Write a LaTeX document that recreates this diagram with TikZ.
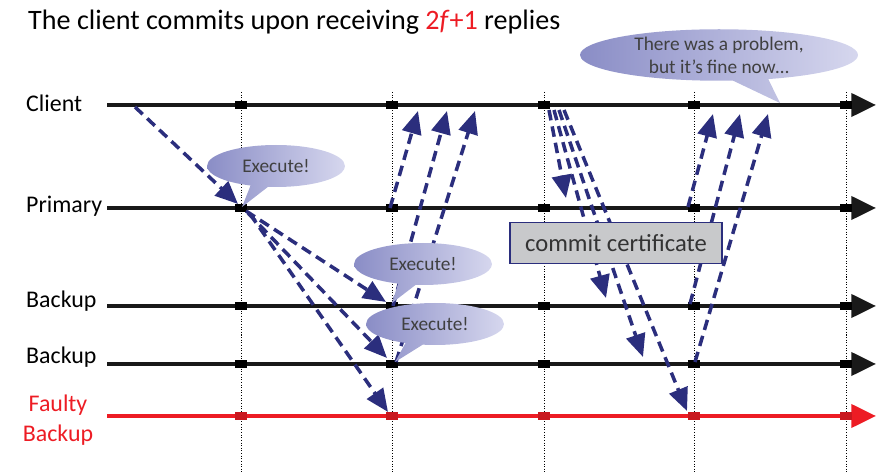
\documentclass[tikz,border=0pt]{standalone}
\usepackage{fontspec}
\setmainfont{Carlito}
\usetikzlibrary{positioning,arrows.meta,shapes.callouts}
\definecolor{msgblue}{RGB}{43,46,125}
\definecolor{faultred}{RGB}{237,28,36}
\definecolor{bubbledark}{RGB}{138,141,198}
\definecolor{bubblelight}{RGB}{214,215,238}
\definecolor{certgray}{RGB}{200,201,203}

\begin{document}
\begin{tikzpicture}[
  x=0.02cm, y=-0.02cm,
  lane/.style={line width=2.4pt, draw=black!90, -{Triangle[length=14pt, width=13pt]}},
  msg/.style={draw=msgblue, line width=2pt, dash pattern=on 6pt off 3.5pt, -{Triangle[length=13pt, width=11pt]}},
  sync/.style={line width=0.5pt, dash pattern=on 0.6pt off 0.9pt},
  tick/.style={fill=black, inner sep=0pt, minimum width=0.25cm, minimum height=0.15cm},
  who/.style={font=\fontsize{13.6}{17}\selectfont, anchor=base west},
  bubble/.style={ellipse callout, left color=bubbledark, right color=bubblelight, text=black!75,
    font=\fontsize{11}{13}\selectfont, inner sep=0pt, minimum width=2.76cm, minimum height=0.84cm}
]
\useasboundingbox (0,0) rectangle (883,472);

% Title
\node[font=\fontsize{16}{19}\selectfont, anchor=base west] (title) at (22,30)
  {The client commits upon receiving {\color{faultred}2\textit{f}+1} replies};

% Time slots
\foreach \t in {241,392,544,694,846}
  \draw[sync] (\t,92) -- (\t,472);

% Lanes
\coordinate (cl-w) at (107,105);  \coordinate (cl-e) at (876,105);
\coordinate (pr-w) at (107,208);  \coordinate (pr-e) at (876,208);
\coordinate (b1-w) at (107,306);  \coordinate (b1-e) at (876,306);
\coordinate (b2-w) at (107,364);  \coordinate (b2-e) at (876,364);
\coordinate (fb-w) at (107,416);  \coordinate (fb-e) at (876,416);
\draw[lane] (cl-w) -- (cl-e);
\draw[lane] (pr-w) -- (pr-e);
\draw[lane] (b1-w) -- (b1-e);
\draw[lane] (b2-w) -- (b2-e);
\draw[lane, draw=faultred] (fb-w) -- (fb-e);

\foreach \t in {241,392,544,694,846} {
  \foreach \y in {105,208,306,364}
    \node[tick] (tick-\t-\y) at (\t,\y) {};
  \node[tick, fill=faultred!85!black] (tick-\t-416) at (\t,416) {};
}

% Replica names
\node[who] (cl-lbl) at (20,112) {Client};
\node[who] (pr-lbl) at (20,213) {Primary};
\node[who] (b1-lbl) at (20,308) {Backup};
\node[who] (b2-lbl) at (20,364) {Backup};
\node[font=\fontsize{13.6}{17}\selectfont, text=faultred, align=center] (fb-lbl) at (58,420) {Faulty\\Backup};

% Request
\coordinate (req-s) at (135,107);  \coordinate (req-e) at (238,204);
\draw[msg] (req-s) -- (req-e);

% Primary forwards
\coordinate (fw-s1) at (246,211);  \coordinate (fw-e1) at (386,302);
\coordinate (fw-s2) at (248,213);  \coordinate (fw-e2) at (387,358);
\coordinate (fw-s3) at (250,214);  \coordinate (fw-e3) at (388,412);
\draw[msg] (fw-s1) -- (fw-e1);
\draw[msg] (fw-s2) -- (fw-e2);
\draw[msg] (fw-s3) -- (fw-e3);

% First replies
\coordinate (rp-s1) at (390,208);  \coordinate (rp-e1) at (418,111);
\coordinate (rp-s2) at (393,306);  \coordinate (rp-e2) at (447,111);
\coordinate (rp-s3) at (396,362);  \coordinate (rp-e3) at (475,111);
\draw[msg] (rp-s1) -- (rp-e1);
\draw[msg] (rp-s2) -- (rp-e2);
\draw[msg] (rp-s3) -- (rp-e3);

% Commit certificate sent out
\coordinate (cc-s1) at (549,110);  \coordinate (cc-e1) at (566,198);
\coordinate (cc-s2) at (554,110);  \coordinate (cc-e2) at (606,298);
\coordinate (cc-s3) at (559,110);  \coordinate (cc-e3) at (643,357);
\coordinate (cc-s4) at (564,110);  \coordinate (cc-e4) at (687,411);
\draw[msg] (cc-s1) -- (cc-e1);
\draw[msg] (cc-s2) -- (cc-e2);
\draw[msg] (cc-s3) -- (cc-e3);
\draw[msg] (cc-s4) -- (cc-e4);

% Second replies
\coordinate (ack-s1) at (688,207);  \coordinate (ack-e1) at (713,114);
\coordinate (ack-s2) at (690,304);  \coordinate (ack-e2) at (740,114);
\coordinate (ack-s3) at (695,362);  \coordinate (ack-e3) at (768,114);
\draw[msg] (ack-s1) -- (ack-e1);
\draw[msg] (ack-s2) -- (ack-e2);
\draw[msg] (ack-s3) -- (ack-e3);

% Certificate box
\node[fill=certgray, draw=msgblue, line width=0.6pt, text=black!80, font=\fontsize{14}{16}\selectfont,
  minimum width=4.24cm, minimum height=0.82cm] (cert) at (616,243) {commit certificate};

% Speech bubbles
\coordinate (tip-pr) at (242,207);
\coordinate (tip-b1) at (392,303);
\coordinate (tip-b2) at (395,362);
\coordinate (tip-cl) at (780,103);
\node[bubble, callout absolute pointer={(tip-pr)}] (say-pr) at (276,166) {Execute!};
\node[bubble, callout absolute pointer={(tip-b1)}] (say-b1) at (423,264) {Execute!};
\node[bubble, callout absolute pointer={(tip-b2)}] (say-b2) at (435,324) {Execute!};
\node[bubble, align=center, minimum width=5.56cm, minimum height=1.0cm,
  callout absolute pointer={(tip-cl)}] (say-cl) at (719,55) {There was a problem,\\but it’s fine now…};
\end{tikzpicture}
\end{document}
